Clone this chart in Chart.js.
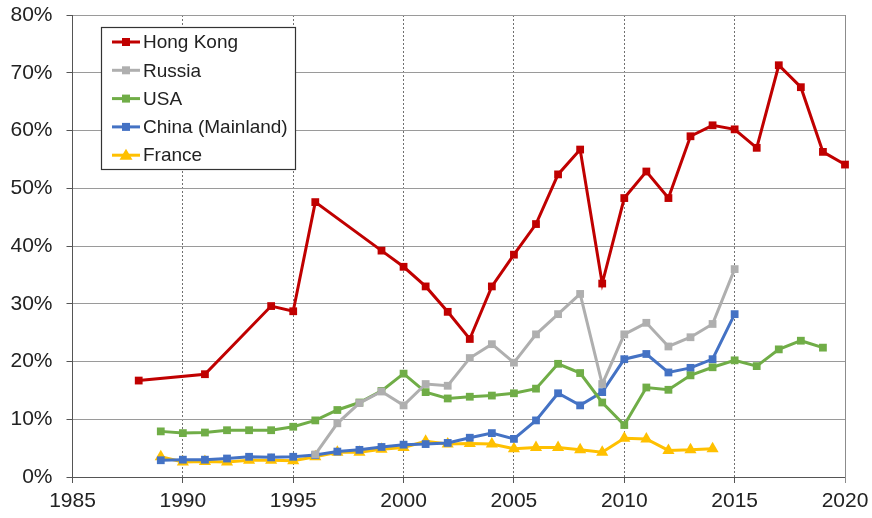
<!DOCTYPE html>
<html>
<head>
<meta charset="utf-8">
<script src="https://cdn.jsdelivr.net/npm/chart.js@4"></script>
<style>
  html, body { margin: 0; padding: 0; background: #fff; }
  #wrap { width: 872px; height: 518px; }
</style>
</head>
<body>
<div id="wrap"><canvas id="chart" width="872" height="518"></canvas></div>
<script>
// values, in percent
var seriesNames = ['Hong Kong', 'Russia', 'USA', 'China (Mainland)', 'France'];

var hkYears = [1988, 1991, 1994, 1995, 1996, 1999, 2000, 2001, 2002, 2003, 2004, 2005, 2006, 2007, 2008, 2009, 2010, 2011, 2012, 2013, 2014, 2015, 2016, 2017, 2018, 2019, 2020];
var hkValues = [16.7, 17.8, 29.6, 28.7, 47.6, 39.2, 36.4, 33.0, 28.6, 23.9, 33.0, 38.5, 43.8, 52.4, 56.7, 33.5, 48.3, 52.9, 48.3, 59.0, 60.9, 60.2, 57.0, 71.3, 67.5, 56.3, 54.1];

var ruYears = [1996, 1997, 1998, 1999, 2000, 2001, 2002, 2003, 2004, 2005, 2006, 2007, 2008, 2009, 2010, 2011, 2012, 2013, 2014, 2015];
var ruValues = [3.9, 9.3, 12.8, 14.8, 12.4, 16.1, 15.8, 20.6, 23.0, 19.8, 24.7, 28.2, 31.7, 16.1, 24.7, 26.7, 22.6, 24.2, 26.5, 36.0];

var usYears = [1989, 1990, 1991, 1992, 1993, 1994, 1995, 1996, 1997, 1998, 1999, 2000, 2001, 2002, 2003, 2004, 2005, 2006, 2007, 2008, 2009, 2010, 2011, 2012, 2013, 2014, 2015, 2016, 2017, 2018, 2019];
var usValues = [7.9, 7.6, 7.7, 8.1, 8.1, 8.1, 8.7, 9.8, 11.6, 12.9, 14.9, 17.9, 14.7, 13.6, 13.9, 14.1, 14.5, 15.3, 19.6, 18.0, 12.9, 9.0, 15.5, 15.1, 17.6, 19.0, 20.2, 19.2, 22.1, 23.6, 22.4];

var cnYears = [1989, 1990, 1991, 1992, 1993, 1994, 1995, 1996, 1997, 1998, 1999, 2000, 2001, 2002, 2003, 2004, 2005, 2006, 2007, 2008, 2009, 2010, 2011, 2012, 2013, 2014, 2015];
var cnValues = [2.9, 3.0, 3.0, 3.2, 3.5, 3.4, 3.5, 3.8, 4.4, 4.7, 5.2, 5.6, 5.7, 5.9, 6.8, 7.6, 6.6, 9.8, 14.5, 12.4, 14.7, 20.4, 21.3, 18.1, 18.9, 20.4, 28.2];

var frYears = [1989, 1990, 1991, 1992, 1993, 1994, 1995, 1996, 1997, 1998, 1999, 2000, 2001, 2002, 2003, 2004, 2005, 2006, 2007, 2008, 2009, 2010, 2011, 2012, 2013, 2014];
var frValues = [3.5, 2.6, 2.7, 2.6, 2.9, 2.9, 2.8, 3.5, 4.3, 4.3, 4.8, 5.1, 6.2, 5.7, 5.8, 5.7, 4.9, 5.1, 5.1, 4.7, 4.3, 6.7, 6.6, 4.6, 4.7, 4.9];

var xTicks = [1985, 1990, 1995, 2000, 2005, 2010, 2015, 2020];
var yTicks = [0, 10, 20, 30, 40, 50, 60, 70, 80];

function pairs(years, values) {
  var out = [];
  for (var i = 0; i < years.length; i++) out.push({ x: years[i], y: values[i] });
  return out;
}

function makeSet(name, years, values, color, style, radius) {
  return {
    label: name,
    data: pairs(years, values),
    borderColor: color,
    backgroundColor: color,
    borderWidth: 3,
    pointStyle: style,
    pointRadius: radius,
    pointHoverRadius: radius,
    pointBorderWidth: 0,
    tension: 0
  };
}

var FONT = '"Liberation Sans", Arial, sans-serif';

// legend box drawn inside the plot, like the original
var boxLegend = {
  id: 'boxLegend',
  afterDraw: function(chart) {
    var ctx = chart.ctx;
    var left = 101, top = 27, w = 194, h = 142;
    ctx.save();
    ctx.fillStyle = '#fff';
    ctx.fillRect(left, top, w, h);
    ctx.strokeStyle = '#333';
    ctx.lineWidth = 1.2;
    ctx.strokeRect(left + 0.5, top + 0.5, w, h);
    ctx.font = '19px ' + FONT;
    ctx.textBaseline = 'middle';
    chart.data.datasets.forEach(function(ds, i) {
      var y = 42 + i * 28.3;
      ctx.strokeStyle = ds.borderColor;
      ctx.lineWidth = 3;
      ctx.beginPath();
      ctx.moveTo(112, y);
      ctx.lineTo(140, y);
      ctx.stroke();
      ctx.fillStyle = ds.backgroundColor;
      if (ds.pointStyle == 'triangle') {
        ctx.beginPath();
        ctx.moveTo(126, y - 6.5);
        ctx.lineTo(132.5, y + 4.5);
        ctx.lineTo(119.5, y + 4.5);
        ctx.closePath();
        ctx.fill();
      } else {
        ctx.fillRect(122, y - 4, 8, 8);
      }
      ctx.fillStyle = '#222';
      ctx.fillText(ds.label, 143, y + 1);
    });
    ctx.restore();
  }
};

// solid frame line on the right edge (x grid is dashed)
var rightEdge = {
  id: 'rightEdge',
  beforeDatasetsDraw: function(chart) {
    var a = chart.chartArea, ctx = chart.ctx;
    ctx.save();
    ctx.strokeStyle = '#8c8c8c';
    ctx.lineWidth = 1;
    ctx.beginPath();
    ctx.moveTo(a.right + 0.5, a.top);
    ctx.lineTo(a.right + 0.5, a.bottom + 6);
    ctx.stroke();
    ctx.restore();
  }
};

var ctx = document.getElementById('chart').getContext('2d');
var chart = new Chart(ctx, {
  type: 'line',
  data: {
    datasets: [
      makeSet(seriesNames[0], hkYears, hkValues, '#C00000', 'rect', 5.5),
      makeSet(seriesNames[1], ruYears, ruValues, '#AFAFAF', 'rect', 5.5),
      makeSet(seriesNames[2], usYears, usValues, '#70AD47', 'rect', 5.5),
      makeSet(seriesNames[3], cnYears, cnValues, '#4472C4', 'rect', 5.5),
      makeSet(seriesNames[4], frYears, frValues, '#FFC000', 'triangle', 7)
    ]
  },
  options: {
    responsive: false,
    animation: false,
    clip: false,
    layout: { padding: { top: 15, right: 27, left: 0, bottom: 0 } },
    plugins: { legend: { display: false }, tooltip: { enabled: false } },
    scales: {
      x: {
        type: 'linear',
        min: 1985,
        max: 2020,
        afterBuildTicks: function(scale) {
          scale.ticks = xTicks.map(function(v) { return { value: v }; });
        },
        afterFit: function(scale) {
          scale.height = 41;
          scale.paddingLeft = 0;
          scale.paddingRight = 0;
        },
        ticks: {
          callback: function(v) { return String(v); },
          color: '#222',
          font: { family: FONT, size: 21 },
          padding: 6,
          maxRotation: 0
        },
        grid: { color: '#707070', lineWidth: 1, tickLength: 6, tickColor: '#555', tickBorderDash: [] },
        border: { display: true, color: '#555', width: 1, dash: [2, 2] }
      },
      y: {
        min: 0,
        max: 80,
        afterBuildTicks: function(scale) {
          scale.ticks = yTicks.map(function(v) { return { value: v }; });
        },
        afterFit: function(scale) {
          scale.width = 72.5;
          scale.paddingTop = 0;
          scale.paddingBottom = 0;
        },
        ticks: {
          callback: function(v) { return v + '%'; },
          color: '#222',
          font: { family: FONT, size: 21 },
          padding: 14
        },
        grid: { color: '#9a9a9a', lineWidth: 1, tickLength: 6, tickColor: '#555' },
        border: { display: true, color: '#555', width: 1 }
      }
    }
  },
  plugins: [rightEdge, boxLegend]
});
</script>
</body>
</html>
